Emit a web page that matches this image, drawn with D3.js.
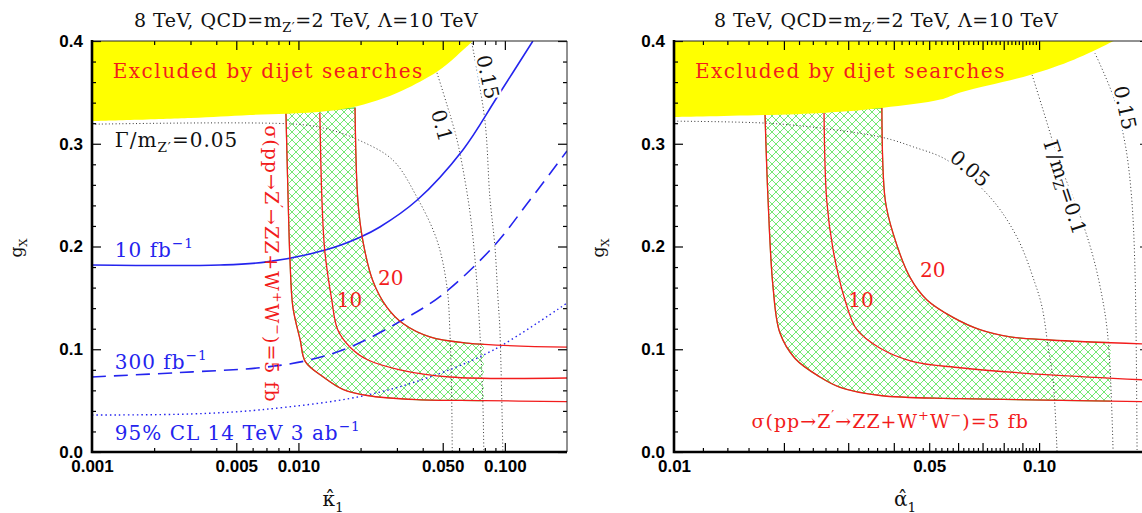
<!DOCTYPE html>
<html>
<head>
<meta charset="utf-8">
<script src="https://cdn.jsdelivr.net/npm/d3@7"></script>
<style>
body { margin: 0; background: #fff; }
svg { display: block; }
</style>
</head>
<body>
<svg id="chart"></svg>
<script>
// ---- data: left panel (kappa_1) ----
const leftExcluded = [[0.001,0.322],[0.003,0.325],[0.0058,0.328],[0.0125,0.331],[0.0178,0.335],[0.024,0.342],[0.0321,0.352],[0.0469,0.37],[0.058,0.385],[0.07,0.4]];
const leftWidth05 = [[0.001,0.319],[0.0098,0.319],[0.014,0.314],[0.0199,0.303],[0.0287,0.284],[0.0375,0.248],[0.0469,0.206],[0.0524,0.161],[0.0542,0.116],[0.0552,0.06],[0.0556,0.0]];
const leftWidth10 = [[0.0469,0.369],[0.0524,0.338],[0.0586,0.304],[0.064,0.265],[0.0685,0.226],[0.0724,0.177],[0.0757,0.116],[0.0782,0.05],[0.0791,0.0]];
const leftWidth15 = [[0.0692,0.398],[0.08,0.323],[0.0846,0.248],[0.0895,0.2],[0.0925,0.151],[0.0946,0.119],[0.0978,0.0]];
const leftLumi10 = [[0.001,0.182],[0.00417,0.182],[0.00704,0.185],[0.01374,0.197],[0.0199,0.209],[0.0248,0.219],[0.0375,0.245],[0.0626,0.294],[0.0915,0.345],[0.1367,0.4]];
const leftLumi300 = [[0.001,0.073],[0.00308,0.078],[0.00651,0.082],[0.011,0.089],[0.01775,0.102],[0.031,0.127],[0.049,0.152],[0.088,0.2],[0.132,0.245],[0.2,0.293]];
const leftCL95 = [[0.001,0.036],[0.003,0.037],[0.0065,0.041],[0.0199,0.054],[0.0419,0.072],[0.0875,0.099],[0.2,0.145]];
const leftSigma5 = [[0.0087,0.33],[0.0089,0.251],[0.0091,0.187],[0.0094,0.141],[0.0102,0.109],[0.0108,0.088],[0.0132,0.073],[0.0164,0.061],[0.0215,0.055],[0.0375,0.051],[0.0782,0.05],[0.2,0.049]];
const leftSigma10 = [[0.0127,0.33],[0.013,0.245],[0.0134,0.197],[0.0145,0.148],[0.0155,0.119],[0.0178,0.102],[0.0215,0.09],[0.031,0.08],[0.0542,0.073],[0.2,0.072]];
const leftSigma20 = [[0.0188,0.335],[0.0194,0.245],[0.0205,0.206],[0.0229,0.167],[0.0268,0.141],[0.0321,0.125],[0.0433,0.112],[0.0655,0.106],[0.2,0.102]];
const leftBandCut = 0.079;

// ---- data: right panel (alpha_1) ----
const rightExcluded = [[0.01,0.326],[0.0256,0.33],[0.0374,0.335],[0.0536,0.343],[0.0608,0.35],[0.0944,0.367],[0.125,0.382],[0.16,0.4]];
const rightWidth05 = [[0.01,0.322],[0.018,0.32],[0.0256,0.315],[0.0374,0.306],[0.0452,0.297],[0.056,0.284],[0.0734,0.248],[0.087,0.209],[0.0975,0.164],[0.1019,0.141],[0.1059,0.102],[0.1092,0.07],[0.112,0.0]];
const rightWidth10 = [[0.0957,0.367],[0.1019,0.336],[0.1142,0.28],[0.1295,0.23],[0.1406,0.19],[0.1488,0.151],[0.1536,0.119],[0.157,0.07],[0.1595,0.0]];
const rightWidth15 = [[0.1423,0.388],[0.16,0.345],[0.172,0.3],[0.179,0.25],[0.183,0.18],[0.1855,0.0]];
const rightSigma5 = [[0.01775,0.33],[0.0181,0.245],[0.01867,0.161],[0.0195,0.116],[0.02146,0.091],[0.0251,0.073],[0.0285,0.063],[0.0367,0.055],[0.0608,0.052],[0.2,0.049]];
const rightSigma10 = [[0.02576,0.33],[0.0262,0.245],[0.02727,0.197],[0.0294,0.148],[0.0317,0.119],[0.0367,0.101],[0.0452,0.088],[0.0608,0.082],[0.1072,0.075],[0.2,0.07]];
const rightSigma20 = [[0.0371,0.335],[0.0379,0.245],[0.0398,0.213],[0.0443,0.17],[0.0493,0.148],[0.0581,0.131],[0.0689,0.119],[0.0833,0.112],[0.1072,0.109],[0.2,0.105]];
const rightBandCut = 0.157;

// ---- ticks ----
const yTickValues = [0, 0.1, 0.2, 0.3, 0.4];
const yTickLabels = ["0.0", "0.1", "0.2", "0.3", "0.4"];
const leftXLabelValues = [0.001, 0.005, 0.01, 0.05, 0.1];
const leftXLabels = ["0.001", "0.005", "0.010", "0.050", "0.100"];
const rightXLabelValues = [0.01, 0.05, 0.1];
const rightXLabels = ["0.01", "0.05", "0.10"];

const RED = "#f21c1c", BLUE = "#2424ee", GREEN = "#4fe24f";
const SERIF = "'DejaVu Serif', serif";

const svg = d3.select("#chart").attr("width", 1142).attr("height", 513);
const defs = svg.append("defs");

const hatch = defs.append("pattern")
    .attr("id", "hatch")
    .attr("patternUnits", "userSpaceOnUse")
    .attr("width", 8).attr("height", 8);
hatch.append("path")
    .attr("d", "M-2,2L2,-2M0,8L8,0M6,10L10,6M-2,6L2,10M0,0L8,8M6,-2L10,2")
    .attr("stroke", GREEN).attr("stroke-width", 0.8).attr("fill", "none");

function rich(sel, parts, fs) {
    let cur = 0;
    parts.forEach(p => {
        const [t, k] = Array.isArray(p) ? p : [p, "n"];
        const off = k === "sub" ? 0.28 * fs : k === "sup" ? -0.42 * fs : 0;
        sel.append("tspan")
            .attr("dy", off - cur)
            .style("font-size", (k === "n" ? fs : fs * 0.68) + "px")
            .text(t);
        cur = off;
    });
}

function drawPanel(p) {
    const x = d3.scaleLog().domain(p.xDomain).range([p.left, p.right]);
    const y = d3.scaleLinear().domain([0, 0.4]).range([452, 41]);
    const g = svg.append("g");

    defs.append("clipPath").attr("id", p.id + "clip")
        .append("rect")
        .attr("x", p.left).attr("y", 41)
        .attr("width", p.right - p.left).attr("height", 411);
    defs.append("clipPath").attr("id", p.id + "band")
        .append("rect")
        .attr("x", p.left).attr("y", 41)
        .attr("width", x(p.bandCut) - p.left).attr("height", 411);

    const plot = g.append("g").attr("clip-path", `url(#${p.id}clip)`);
    const line = d3.line()
        .x(d => x(d[0]))
        .y(d => y(d[1]))
        .curve(d3.curveCatmullRom.alpha(0.5));

    // hatched band between 5 fb and 20 fb
    const bandPath = line(p.sigma20) + line(p.sigma5.slice().reverse()).replace(/^M/, "L") + "Z";
    plot.append("path")
        .attr("d", bandPath)
        .attr("clip-path", `url(#${p.id}band)`)
        .attr("fill", "url(#hatch)")
        .attr("stroke", GREEN).attr("stroke-width", 1.2);

    // width contours
    [p.width05, p.width10, p.width15].forEach(d => {
        plot.append("path").datum(d).attr("d", line)
            .attr("fill", "none").attr("stroke", "#333")
            .attr("stroke-width", 1).attr("stroke-dasharray", "1,2.4");
    });

    // blue reach lines
    if (p.lumi10) {
        plot.append("path").datum(p.lumi10).attr("d", line)
            .attr("fill", "none").attr("stroke", BLUE).attr("stroke-width", 1.6);
        plot.append("path").datum(p.lumi300).attr("d", line)
            .attr("fill", "none").attr("stroke", BLUE).attr("stroke-width", 1.6)
            .attr("stroke-dasharray", "14,8");
        plot.append("path").datum(p.cl95).attr("d", line)
            .attr("fill", "none").attr("stroke", BLUE).attr("stroke-width", 1.4)
            .attr("stroke-dasharray", "1.5,3");
    }

    // cross-section contours
    [p.sigma5, p.sigma10, p.sigma20].forEach(d => {
        plot.append("path").datum(d).attr("d", line)
            .attr("fill", "none").attr("stroke", RED).attr("stroke-width", 1.3);
    });

    // excluded region
    plot.append("path")
        .attr("d", line(p.excluded) + `L${x(p.xDomain[0])},${y(0.4) - 5}L${x(p.xDomain[0]) - 5},${y(0.4) - 5}L${x(p.xDomain[0]) - 5},${y(p.excluded[0][1])}Z`)
        .attr("fill", "#ffff00");

    // ticks
    const tickStyle = s => {
        s.select(".domain").remove();
        s.selectAll("line").attr("stroke", "#000").attr("stroke-width", 1.2);
    };
    const labelStyle = s => {
        s.select(".domain").remove();
        s.selectAll("text")
            .attr("fill", "#000")
            .style("font-family", "'Liberation Sans', Arial, sans-serif")
            .style("font-weight", "bold")
            .style("font-size", "17px");
    };
    const yMinor = d3.range(1, 20).map(i => i * 0.02).filter((v, i) => (i + 1) % 5 !== 0);

    g.append("g").attr("transform", "translate(0,452)")
        .call(d3.axisBottom(x).tickValues(p.xMinor).tickSize(-4).tickFormat("")).call(tickStyle);
    g.append("g").attr("transform", "translate(0,452)")
        .call(d3.axisBottom(x).tickValues(p.xMajor).tickSize(-9).tickFormat("")).call(tickStyle);
    g.append("g").attr("transform", "translate(0,41)")
        .call(d3.axisTop(x).tickValues(p.xMinor).tickSize(-4).tickFormat("")).call(tickStyle);
    g.append("g").attr("transform", "translate(0,41)")
        .call(d3.axisTop(x).tickValues(p.xMajor).tickSize(-9).tickFormat("")).call(tickStyle);
    g.append("g").attr("transform", "translate(0,453)")
        .call(d3.axisBottom(x).tickValues(p.xLabelValues).tickSize(0).tickPadding(7)
            .tickFormat((d, i) => p.xLabels[i])).call(labelStyle);

    g.append("g").attr("transform", `translate(${p.left},0)`)
        .call(d3.axisLeft(y).tickValues(yMinor).tickSize(-4).tickFormat("")).call(tickStyle);
    g.append("g").attr("transform", `translate(${p.left},0)`)
        .call(d3.axisLeft(y).tickValues(yTickValues).tickSize(-9).tickFormat("")).call(tickStyle);
    g.append("g").attr("transform", `translate(${p.right},0)`)
        .call(d3.axisRight(y).tickValues(yMinor).tickSize(-4).tickFormat("")).call(tickStyle);
    g.append("g").attr("transform", `translate(${p.right},0)`)
        .call(d3.axisRight(y).tickValues(yTickValues).tickSize(-9).tickFormat("")).call(tickStyle);
    g.append("g").attr("transform", `translate(${p.left},0)`)
        .call(d3.axisLeft(y).tickValues(yTickValues).tickSize(0).tickPadding(9)
            .tickFormat((d, i) => yTickLabels[i])).call(labelStyle);

    // frame
    g.append("path")
        .attr("d", `M${p.left},41H${p.right}V452`)
        .attr("fill", "none").attr("stroke", "#222").attr("stroke-width", 1);
    g.append("path")
        .attr("d", `M${p.left},40V452H${p.right}`)
        .attr("fill", "none").attr("stroke", "#000").attr("stroke-width", 2.6);

    // title and axis labels
    const title = g.append("text")
        .attr("x", p.titleX).attr("y", 27)
        .attr("text-anchor", "middle")
        .style("font-family", SERIF).style("letter-spacing", "0.5px").attr("fill", "#111");
    rich(title, ["8 TeV, QCD=m", ["Z′", "sub"], "=2 TeV, Λ=10 TeV"], 19);

    const yl = g.append("text")
        .attr("transform", `translate(${p.left - 70},248) rotate(-90)`)
        .attr("text-anchor", "middle")
        .style("font-family", SERIF).attr("fill", "#111");
    rich(yl, ["g", ["X", "sub"]], 17);

    const xl = g.append("text")
        .attr("x", p.xLabelX).attr("y", 506)
        .attr("text-anchor", "middle")
        .style("font-family", SERIF).attr("fill", "#111");
    rich(xl, [p.xName, ["1", "sub"]], 20);

    // annotations
    p.labels.forEach(l => {
        const t = g.append("text")
            .attr("transform", `translate(${x(l.x)},${y(l.y)}) rotate(${l.rot || 0})`)
            .attr("text-anchor", l.anchor || "start")
            .attr("dominant-baseline", l.center ? "central" : "auto")
            .style("font-family", SERIF)
            .style("letter-spacing", (l.ls || 0) + "px")
            .attr("fill", l.color);
        if (l.halo) {
            t.attr("stroke", "#fff").attr("stroke-width", 5)
                .style("paint-order", "stroke");
        }
        rich(t, l.parts, l.size);
    });
}

const sigmaText = ["σ(pp→Z", ["′", "sup"], "→ZZ+W", ["+", "sup"], "W", ["−", "sup"], ")=5 fb"];

drawPanel({
    id: "L", left: 92, right: 567, xDomain: [0.001, 0.2],
    titleX: 306, xLabelX: 333,
    xName: "κ̂",
    xMajor: [0.005, 0.01, 0.05, 0.1],
    xMinor: [0.002, 0.003, 0.004, 0.006, 0.007, 0.008, 0.009, 0.02, 0.03, 0.04, 0.06, 0.07, 0.08, 0.09],
    xLabelValues: leftXLabelValues, xLabels: leftXLabels,
    excluded: leftExcluded,
    width05: leftWidth05, width10: leftWidth10, width15: leftWidth15,
    lumi10: leftLumi10, lumi300: leftLumi300, cl95: leftCL95,
    sigma5: leftSigma5, sigma10: leftSigma10, sigma20: leftSigma20,
    bandCut: leftBandCut,
    labels: [
        { x: 0.00126, y: 0.364, parts: ["Excluded by dijet searches"], color: RED, size: 20, ls: 1.5 },
        { x: 0.00129, y: 0.297, parts: ["Γ/m", ["Z′", "sub"], "=0.05"], color: "#111", size: 20, ls: 1 },
        { x: 0.00129, y: 0.19, parts: ["10 fb", ["−1", "sup"]], color: BLUE, size: 20, ls: 1 },
        { x: 0.00129, y: 0.081, parts: ["300 fb", ["−1", "sup"]], color: BLUE, size: 20, ls: 1 },
        { x: 0.00129, y: 0.012, parts: ["95% CL 14 TeV 3 ab", ["−1", "sup"]], color: BLUE, size: 20, ls: 1 },
        { x: 0.01535, y: 0.141, parts: ["10"], color: RED, size: 20 },
        { x: 0.0243, y: 0.163, parts: ["20"], color: RED, size: 20 },
        { x: 0.00689, y: 0.318, parts: sigmaText, color: RED, size: 19, ls: 1, rot: 90 },
        { x: 0.0495, y: 0.318, parts: ["0.1"], color: "#111", size: 20, rot: 75, anchor: "middle", center: true, halo: true },
        { x: 0.0827, y: 0.365, parts: ["0.15"], color: "#111", size: 20, rot: 78, anchor: "middle", center: true, halo: true }
    ]
});

drawPanel({
    id: "R", left: 674, right: 1149, xDomain: [0.01, 0.2],
    titleX: 886, xLabelX: 905,
    xName: "α̂",
    xMajor: d3.range(2, 11).map(i => i * 0.01),
    xMinor: d3.range(6, 50).map(i => i * 0.002).filter((v, i) => (i + 6) % 5 !== 0),
    xLabelValues: rightXLabelValues, xLabels: rightXLabels,
    excluded: rightExcluded,
    width05: rightWidth05, width10: rightWidth10, width15: rightWidth15,
    sigma5: rightSigma5, sigma10: rightSigma10, sigma20: rightSigma20,
    bandCut: rightBandCut,
    labels: [
        { x: 0.01141, y: 0.364, parts: ["Excluded by dijet searches"], color: RED, size: 20, ls: 1.5 },
        { x: 0.0472, y: 0.17, parts: ["20"], color: RED, size: 20 },
        { x: 0.03, y: 0.141, parts: ["10"], color: RED, size: 20 },
        { x: 0.0391, y: 0.023, parts: sigmaText, color: RED, size: 19, ls: 1, anchor: "middle" },
        { x: 0.0647, y: 0.276, parts: ["0.05"], color: "#111", size: 20, rot: 40, anchor: "middle", center: true, halo: true },
        { x: 0.1178, y: 0.258, parts: ["Γ/m", ["Z", "sub"], "=0.1"], color: "#111", size: 20, rot: 72, anchor: "middle", center: true, halo: true },
        { x: 0.172, y: 0.335, parts: ["0.15"], color: "#111", size: 20, rot: 78, anchor: "middle", center: true, halo: true }
    ]
});
</script>
</body>
</html>
